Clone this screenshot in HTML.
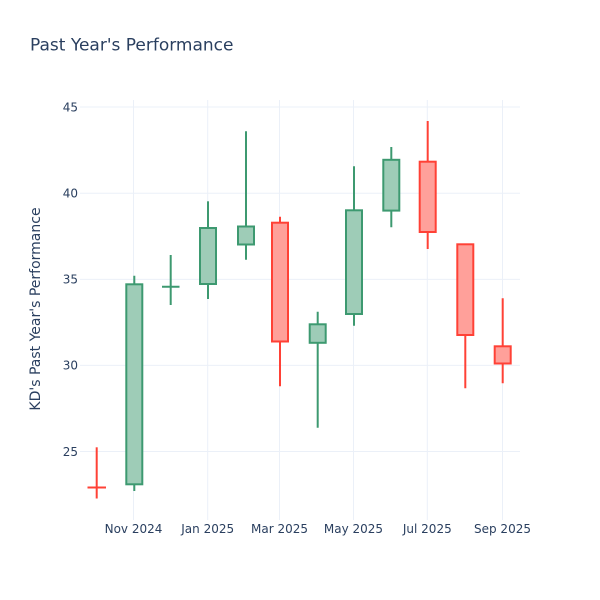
<!DOCTYPE html>
<html><head><meta charset="utf-8"><style>
html,body{margin:0;padding:0;background:#fff;}
svg{display:block;font-family:"DejaVu Sans","Liberation Sans",sans-serif;}
</style></head><body>
<svg width="600" height="600" viewBox="0 0 600 600" xmlns="http://www.w3.org/2000/svg">
<rect width="600" height="600" fill="#fff"/>
<g stroke="#ebf0f8" stroke-width="1">
<line x1="80" x2="520" y1="107" y2="107"/>
<line x1="80" x2="520" y1="193.3" y2="193.3"/>
<line x1="80" x2="520" y1="279.4" y2="279.4"/>
<line x1="80" x2="520" y1="365.4" y2="365.4"/>
<line x1="80" x2="520" y1="451.5" y2="451.5"/>
<line x1="133.5" x2="133.5" y1="100" y2="520"/>
<line x1="207.7" x2="207.7" y1="100" y2="520"/>
<line x1="279.5" x2="279.5" y1="100" y2="520"/>
<line x1="353.5" x2="353.5" y1="100" y2="520"/>
<line x1="427.3" x2="427.3" y1="100" y2="520"/>
<line x1="502.5" x2="502.5" y1="100" y2="520"/>
</g>
<g stroke="#3d9970" stroke-width="2" fill="#9eccb7">
<!-- Nov -->
<line x1="134.3" x2="134.3" y1="275.7" y2="491"/>
<rect x="126.3" y="284.3" width="16" height="200"/>
<!-- Dec -->
<line x1="170.7" x2="170.7" y1="255" y2="305"/>
<line x1="162" x2="179.5" y1="286.7" y2="286.7"/>
<!-- Jan -->
<line x1="208" x2="208" y1="201.3" y2="299"/>
<rect x="200" y="228" width="16" height="56"/>
<!-- Feb -->
<line x1="246" x2="246" y1="131.3" y2="259.7"/>
<rect x="238" y="226.5" width="16" height="18"/>
<!-- Apr -->
<line x1="317.7" x2="317.7" y1="311.7" y2="427.7"/>
<rect x="309.7" y="324.3" width="16" height="18.5"/>
<!-- May -->
<line x1="354" x2="354" y1="166.3" y2="325.7"/>
<rect x="346" y="210.3" width="16" height="103.7"/>
<!-- Jun -->
<line x1="391.3" x2="391.3" y1="147" y2="227.3"/>
<rect x="383.3" y="159.8" width="16" height="50.8"/>
</g>
<g stroke="#ff4136" stroke-width="2" fill="#ffa09a">
<!-- Oct -->
<line x1="96.7" x2="96.7" y1="447.3" y2="498.5"/>
<line x1="87.5" x2="106" y1="487.5" y2="487.5"/>
<!-- Mar -->
<line x1="280" x2="280" y1="216.7" y2="386.3"/>
<rect x="272" y="222.7" width="16" height="118.8"/>
<!-- Jul -->
<line x1="427.7" x2="427.7" y1="121" y2="249"/>
<rect x="419.7" y="161.7" width="16" height="70.3"/>
<!-- Aug -->
<line x1="465.3" x2="465.3" y1="244" y2="388.3"/>
<rect x="457.3" y="244.3" width="16" height="90.7"/>
<!-- Sep -->
<line x1="502.7" x2="502.7" y1="298.3" y2="383.3"/>
<rect x="494.7" y="346.3" width="16" height="17.2"/>
</g>
<g fill="#2a3f5f" font-size="12" text-anchor="end">
<text x="78" y="111.3">45</text>
<text x="78" y="197.6">40</text>
<text x="78" y="283.7">35</text>
<text x="78" y="369.7">30</text>
<text x="78" y="455.8">25</text>
</g>
<g fill="#2a3f5f" font-size="12" text-anchor="middle">
<text x="133.5" y="533">Nov 2024</text>
<text x="207.7" y="533">Jan 2025</text>
<text x="279.5" y="533">Mar 2025</text>
<text x="353.5" y="533">May 2025</text>
<text x="427.3" y="533">Jul 2025</text>
<text x="502.5" y="533">Sep 2025</text>
</g>
<text x="30" y="50.5" fill="#2a3f5f" font-size="17">Past Year's Performance</text>
<text transform="translate(40,309) rotate(-90)" fill="#2a3f5f" font-size="14" text-anchor="middle">KD's Past Year's Performance</text>
</svg>
</body></html>
